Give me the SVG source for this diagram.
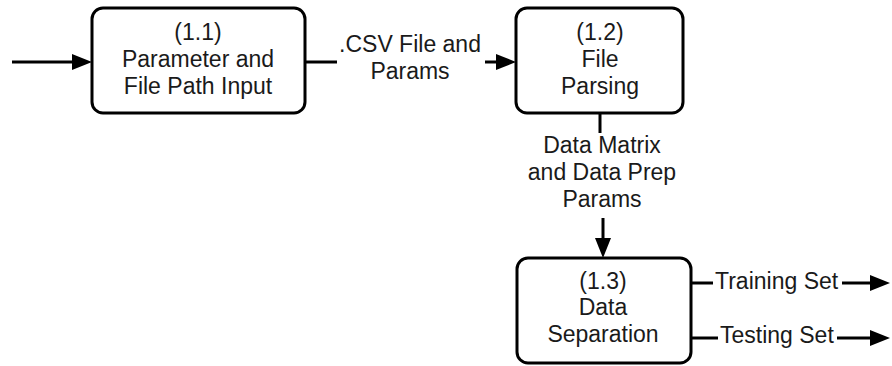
<svg xmlns="http://www.w3.org/2000/svg" width="892" height="366" viewBox="0 0 892 366">
  <style>
    .box { fill: #ffffff; stroke: #000000; stroke-width: 3; }
    .line { fill: none; stroke: #000000; stroke-width: 3; }
    .head { fill: #000000; stroke: none; }
    text { font-family: "Liberation Sans", Arial, sans-serif; font-size: 23px; fill: #1a1a1a; }
    .c { text-anchor: middle; }
  </style>
  <rect width="892" height="366" fill="#ffffff"/>

  <g id="connectors">
    <!-- input into 1.1 -->
    <line class="line" x1="12" y1="62" x2="74" y2="62"/>
    <polygon class="head" points="72,54 92,62 72,70"/>
    <!-- 1.1 to 1.2 -->
    <line class="line" x1="305" y1="62" x2="337" y2="62"/>
    <line class="line" x1="485" y1="62" x2="498" y2="62"/>
    <polygon class="head" points="496,54 516,62 496,70"/>
    <text class="c" x="410" y="52">.CSV File and</text>
    <text class="c" x="410" y="79">Params</text>
    <!-- 1.2 to 1.3 -->
    <line class="line" x1="600" y1="113" x2="600" y2="133"/>
    <line class="line" x1="603" y1="218" x2="603" y2="240"/>
    <polygon class="head" points="595,238 603,258 611,238"/>
    <text class="c" x="602" y="153">Data Matrix</text>
    <text class="c" x="602" y="180">and Data Prep</text>
    <text class="c" x="602" y="207">Params</text>
    <!-- outputs of 1.3 -->
    <line class="line" x1="691" y1="283" x2="713" y2="283"/>
    <text x="715" y="289">Training Set</text>
    <line class="line" x1="842" y1="283" x2="872" y2="283"/>
    <polygon class="head" points="870,275 890,283 870,291"/>
    <line class="line" x1="691" y1="338" x2="718" y2="338"/>
    <text x="720" y="343">Testing Set</text>
    <line class="line" x1="837" y1="338" x2="872" y2="338"/>
    <polygon class="head" points="870,330 890,338 870,346"/>
  </g>

  <g id="node-1-1">
    <rect class="box" x="92" y="8" width="213" height="105" rx="11"/>
    <text class="c" x="198" y="40">(1.1)</text>
    <text class="c" x="198" y="67">Parameter and</text>
    <text class="c" x="198" y="94">File Path Input</text>
  </g>

  <g id="node-1-2">
    <rect class="box" x="516" y="8" width="167" height="105" rx="11"/>
    <text class="c" x="600" y="40">(1.2)</text>
    <text class="c" x="600" y="67">File</text>
    <text class="c" x="600" y="94">Parsing</text>
  </g>

  <g id="node-1-3">
    <rect class="box" x="517" y="258" width="174" height="105" rx="11"/>
    <text class="c" x="603" y="289">(1.3)</text>
    <text class="c" x="603" y="315">Data</text>
    <text class="c" x="603" y="342">Separation</text>
  </g>
</svg>
